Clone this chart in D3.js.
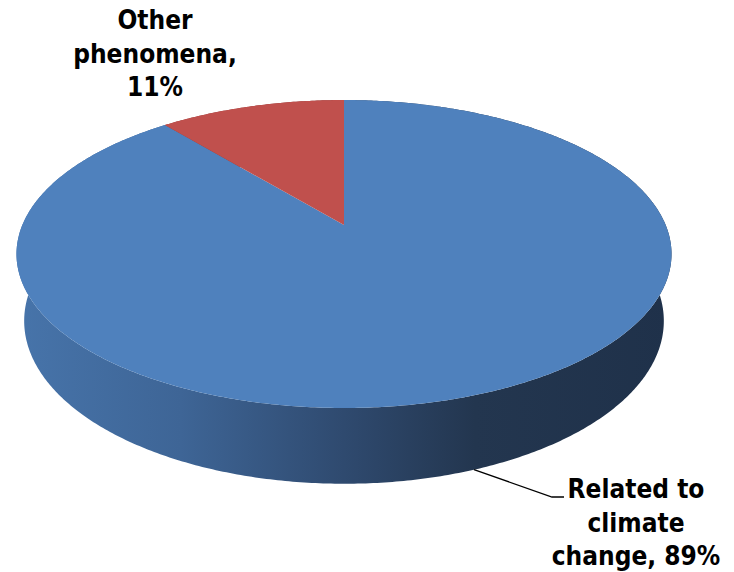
<!DOCTYPE html>
<html>
<head>
<meta charset="utf-8">
<script src="https://cdn.jsdelivr.net/npm/d3@7"></script>
<style>
  html, body { margin: 0; padding: 0; background: #ffffff; }
  svg { display: block; }
  .lbl { font-family: "DejaVu Sans", Tahoma, sans-serif; font-stretch: condensed; font-weight: bold; font-size: 26px; fill: #000; }
</style>
</head>
<body>
<script>
// Share of events, by cause
const categories = ["Related to climate change", "Other phenomena"];
const values = [89, 11];
const labelLines = [
  ["Related to", "climate", "change, 89%"],
  ["Other", "phenomena,", "11%"]
];
const colors = ["#4F81BD", "#C0504D"];

const W = 734, H = 572;
const svg = d3.select("body").append("svg").attr("width", W).attr("height", H);

// Perspective camera for a tilted 3-D disc of unit radius
const cx = 344, cy = 225;          // screen position of the disc centre
const tilt = 27.5 * Math.PI / 180; // elevation of the camera
const camDist = 4.71, focal = 1515, thickness = 0.2366;
const sA = Math.sin(tilt), cA = Math.cos(tilt);

function project(phi, y) {
  const X = Math.sin(phi), Z = -Math.cos(phi);
  const d = camDist - y * sA - Z * cA;
  const v = y * cA - Z * sA;
  return [cx + focal * X / d, cy - focal * v / d];
}

const pie = d3.pie().sort(null).startAngle(0).endAngle(2 * Math.PI);
const arcs = pie(values);

function arcPoints(a0, a1, y) {
  const n = Math.max(2, Math.ceil((a1 - a0) / 0.01));
  return d3.range(n + 1).map(i => project(a0 + (a1 - a0) * i / n, y));
}

// Side wall shading
const defs = svg.append("defs");
const grad = defs.append("linearGradient")
  .attr("id", "wallBlue").attr("gradientUnits", "userSpaceOnUse")
  .attr("x1", 17).attr("x2", 671).attr("y1", 0).attr("y2", 0);
[[0, "#4774aa"], [0.25, "#3e6596"], [0.5, "#2f4a6f"], [0.7, "#23364f"], [1, "#1f314a"]]
  .forEach(([o, c]) => grad.append("stop").attr("offset", o).attr("stop-color", c));
const gradR = defs.append("linearGradient")
  .attr("id", "wallRed").attr("gradientUnits", "userSpaceOnUse")
  .attr("x1", 17).attr("x2", 671).attr("y1", 0).attr("y2", 0);
[[0, "#a8433f"], [1, "#5a2422"]]
  .forEach(([o, c]) => gradR.append("stop").attr("offset", o).attr("stop-color", c));

const line = d3.line();

// walls: top rim forward, bottom rim back
svg.append("g").selectAll("path")
  .data(arcs)
  .join("path")
  .attr("d", a => {
    const top = arcPoints(a.startAngle, a.endAngle, 0);
    const bot = arcPoints(a.startAngle, a.endAngle, -thickness).reverse();
    return line(top.concat(bot)) + "Z";
  })
  .attr("fill", (a, i) => i === 0 ? "url(#wallBlue)" : "url(#wallRed)");

// top faces
svg.append("g").selectAll("path")
  .data(arcs)
  .join("path")
  .attr("d", a => line([[cx, cy]].concat(arcPoints(a.startAngle, a.endAngle, 0))) + "Z")
  .attr("fill", (a, i) => colors[i]);

// leader line for the large slice
const anchor = project(160 * Math.PI / 180, -thickness);
svg.append("path")
  .attr("d", line([anchor, [552, 497], [564, 497]]))
  .attr("fill", "none").attr("stroke", "#000").attr("stroke-width", 1.3);

// data labels
const labelPos = [[636, 498], [155, 29]];
const lh = 33.5;
labelLines.forEach((lines, i) => {
  const t = svg.append("text").attr("class", "lbl")
    .attr("text-anchor", "middle")
    .attr("x", labelPos[i][0]).attr("y", labelPos[i][1]);
  lines.forEach((s, j) => {
    t.append("tspan").attr("x", labelPos[i][0]).attr("dy", j === 0 ? 0 : lh).text(s);
  });
});
</script>
</body>
</html>
